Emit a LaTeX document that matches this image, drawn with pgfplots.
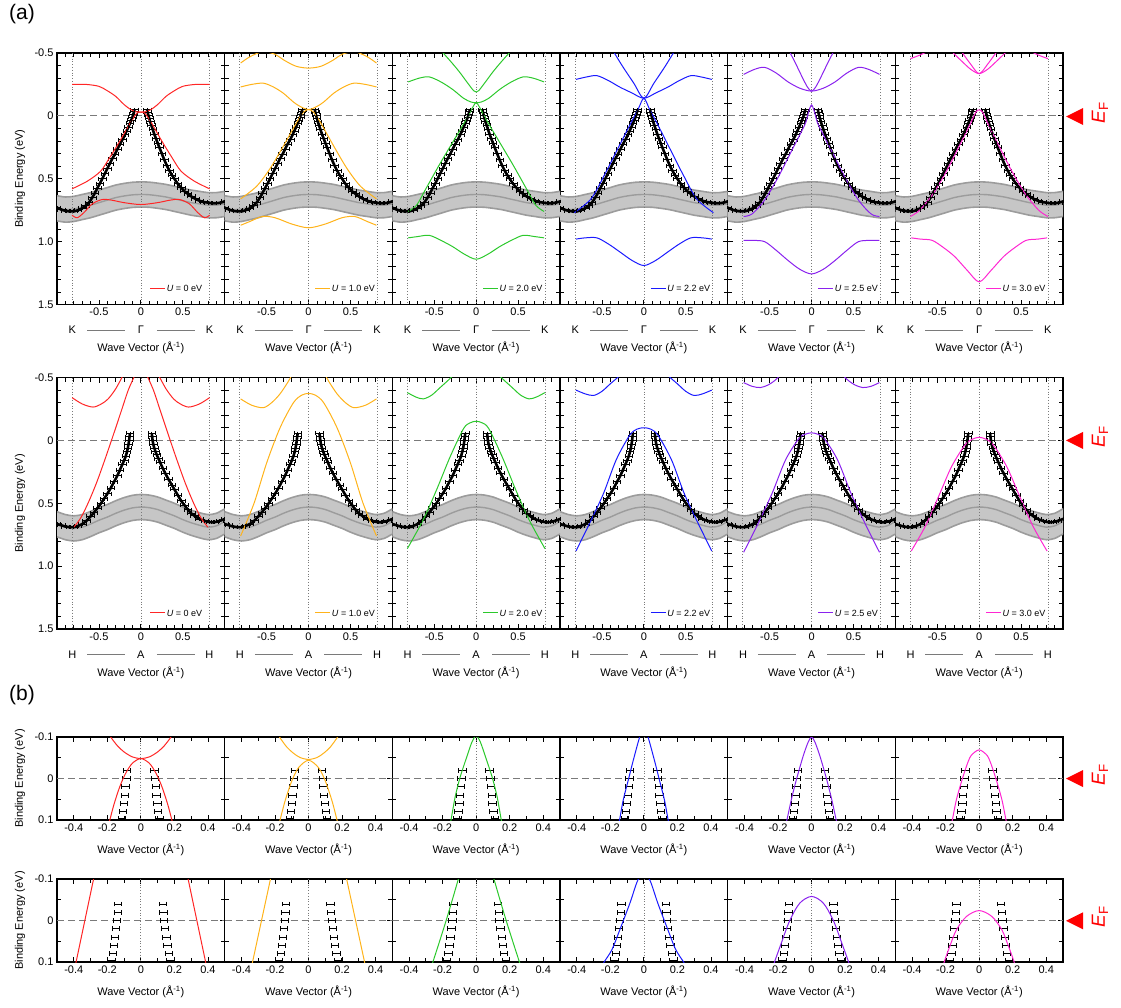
\documentclass[border=0pt]{standalone}
\usepackage{fontspec}
\setmainfont{Liberation Sans}
\usepackage{pgfplots}
\pgfplotsset{compat=1.18}
\usepackage{pgfplotstable}
\usepgfplotslibrary{fillbetween}

\definecolor{cA}{HTML}{FF2626}
\definecolor{cB}{HTML}{FFB31A}
\definecolor{cC}{HTML}{2CC92C}
\definecolor{cD}{HTML}{1A1AFF}
\definecolor{cE}{HTML}{8A22EE}
\definecolor{cF}{HTML}{FF26D2}
\definecolor{bandfill}{HTML}{C6C6C6}
\definecolor{bandline}{HTML}{9C9C9C}
\definecolor{guide}{HTML}{7A7A7A}

% gray band, K-Gamma-K cut
\pgfplotstableread{
k lo c hi
-1.05 0.630 0.730 0.830
-1.00 0.635 0.735 0.835
-0.90 0.645 0.745 0.845
-0.80 0.640 0.740 0.840
-0.70 0.625 0.725 0.825
-0.60 0.610 0.710 0.810
-0.50 0.590 0.690 0.790
-0.40 0.570 0.670 0.770
-0.30 0.550 0.650 0.750
-0.20 0.537 0.637 0.737
-0.10 0.528 0.628 0.728
0.00 0.525 0.625 0.725
0.10 0.527 0.627 0.727
0.20 0.535 0.635 0.735
0.30 0.545 0.645 0.745
0.40 0.560 0.660 0.760
0.50 0.575 0.675 0.775
0.60 0.590 0.690 0.790
0.70 0.600 0.700 0.800
0.80 0.610 0.710 0.810
0.90 0.610 0.710 0.810
1.00 0.600 0.700 0.800
1.05 0.595 0.695 0.795
}\bandA
% gray band, H-A-H cut
\pgfplotstableread{
k lo c hi
-1.05 0.560 0.660 0.760
-1.00 0.567 0.667 0.767
-0.90 0.590 0.690 0.790
-0.80 0.600 0.700 0.800
-0.70 0.590 0.690 0.790
-0.60 0.565 0.665 0.765
-0.50 0.535 0.635 0.735
-0.40 0.510 0.610 0.710
-0.30 0.480 0.580 0.680
-0.20 0.455 0.555 0.655
-0.10 0.437 0.537 0.637
0.00 0.430 0.530 0.630
0.10 0.435 0.535 0.635
0.20 0.450 0.550 0.650
0.30 0.475 0.575 0.675
0.40 0.500 0.600 0.700
0.50 0.530 0.630 0.730
0.60 0.555 0.655 0.755
0.70 0.575 0.675 0.775
0.80 0.590 0.690 0.790
0.90 0.580 0.680 0.780
1.00 0.545 0.645 0.745
1.05 0.535 0.635 0.735
}\bandB

% ARPES dispersion, K-Gamma-K
\pgfplotstableread{
k E
-1.05 0.720
-1.00 0.730
-0.95 0.745
-0.90 0.755
-0.85 0.760
-0.80 0.760
-0.75 0.750
-0.70 0.735
-0.66 0.715
-0.62 0.690
-0.58 0.650
-0.55 0.615
-0.52 0.575
-0.49 0.540
-0.46 0.500
-0.43 0.460
-0.40 0.420
-0.37 0.380
-0.34 0.340
-0.31 0.305
-0.28 0.265
-0.25 0.225
-0.22 0.190
-0.19 0.150
-0.17 0.120
-0.15 0.090
-0.13 0.060
-0.115 0.035
-0.10 0.010
-0.09 -0.015
-0.08 -0.035
-0.075 -0.050
}\dataAL
\pgfplotstableread{
k E
0.075 -0.050
0.08 -0.030
0.09 -0.005
0.10 0.020
0.11 0.045
0.125 0.075
0.14 0.105
0.16 0.145
0.18 0.180
0.20 0.215
0.22 0.250
0.25 0.300
0.28 0.350
0.31 0.395
0.34 0.435
0.37 0.470
0.40 0.500
0.44 0.540
0.48 0.570
0.52 0.600
0.56 0.620
0.60 0.640
0.65 0.660
0.70 0.675
0.75 0.685
0.80 0.690
0.85 0.695
0.90 0.695
0.95 0.690
1.00 0.680
1.05 0.670
}\dataAR
% ARPES dispersion, H-A-H
\pgfplotstableread{
k E
-1.05 0.655
-1.00 0.665
-0.95 0.675
-0.90 0.685
-0.85 0.690
-0.80 0.690
-0.75 0.680
-0.70 0.665
-0.65 0.640
-0.60 0.605
-0.56 0.575
-0.52 0.540
-0.48 0.505
-0.44 0.465
-0.40 0.425
-0.36 0.380
-0.32 0.330
-0.28 0.280
-0.25 0.235
-0.22 0.190
-0.20 0.160
-0.18 0.125
-0.165 0.090
-0.155 0.060
-0.147 0.030
-0.14 0.000
-0.135 -0.030
-0.13 -0.055
}\dataBL
\pgfplotstableread{
k E
0.13 -0.055
0.135 -0.030
0.14 0.000
0.148 0.030
0.16 0.060
0.175 0.090
0.19 0.115
0.21 0.145
0.23 0.175
0.26 0.220
0.29 0.260
0.33 0.310
0.37 0.355
0.40 0.390
0.44 0.435
0.48 0.480
0.52 0.515
0.56 0.550
0.60 0.580
0.64 0.600
0.70 0.625
0.76 0.640
0.82 0.650
0.88 0.650
0.94 0.640
1.00 0.625
1.05 0.610
}\dataBR
% near-EF points
\pgfplotstableread{
k E
-0.083 -0.02
-0.087 0.00
-0.091 0.02
-0.096 0.04
-0.101 0.06
-0.106 0.08
-0.112 0.096
}\dataCL
\pgfplotstableread{
k E
0.080 -0.02
0.084 0.00
0.088 0.02
0.093 0.04
0.098 0.06
0.103 0.08
0.110 0.096
}\dataCR
\pgfplotstableread{
k E
-0.135 -0.04
-0.138 -0.02
-0.142 0.00
-0.147 0.02
-0.153 0.04
-0.159 0.06
-0.166 0.08
-0.175 0.096
}\dataDL
\pgfplotstableread{
k E
0.130 -0.04
0.134 -0.02
0.139 0.00
0.145 0.02
0.152 0.04
0.158 0.06
0.166 0.08
0.176 0.096
}\dataDR

\pgfplotsset{
  base/.style={scale only axis, width=167.7pt, y dir=reverse, anchor=north west,
    axis line style={line width=1.1pt},
    every tick/.style={black, line width=0.8pt},
    major tick length=5pt, minor tick length=4pt,
    tick label style={font=\fontsize{11}{12}\selectfont},
    label style={font=\fontsize{11}{12}\selectfont},
    xlabel={Wave Vector (Å\textsuperscript{-1})},
    yticklabels={},
    ylabel style={at={(axis description cs:-0.2206,0.5)}, anchor=center},
  },
  panelA/.style={base, height=251.5pt,
    xmin=-1, xmax=1, ymin=-0.5, ymax=1.5,
    xtick={-0.5,0,0.5}, xticklabels={-0.5,0,0.5},
    minor xtick={-0.9,-0.8,-0.7,-0.6,-0.4,-0.3,-0.2,-0.1,0.1,0.2,0.3,0.4,0.6,0.7,0.8,0.9},
    ytick={-0.5,0,0.5,1,1.5},
    minor ytick={-0.4,-0.3,-0.2,-0.1,0.1,0.2,0.3,0.4,0.6,0.7,0.8,0.9,1.1,1.2,1.3,1.4},
    xlabel style={at={(axis description cs:0.5,0)}, anchor=center, yshift=-43.5pt},
  },
  firstA/.style={yticklabels={-0.5,0,0.5,1.0,1.5}, ylabel={Binding Energy (eV)}},
  panelB/.style={base, height=83pt,
    xmin=-0.5, xmax=0.5, ymin=-0.1, ymax=0.1,
    xtick={-0.4,-0.2,0,0.2,0.4}, xticklabels={-0.4,-0.2,0,0.2,0.4},
    minor xtick={-0.3,-0.1,0.1,0.3},
    ytick={-0.1,0,0.1}, minor ytick={-0.05,0.05},
    xlabel style={at={(axis description cs:0.5,0)}, anchor=center, yshift=-30pt},
  },
  firstB/.style={yticklabels={-0.1,0,0.1}, ylabel={Binding Energy (eV)}},
  kgk/.style 2 args={extra description/.append code={
    \node[font=\fontsize{11}{12}\selectfont] at ([yshift=-25.5pt]axis description cs:0.091,0) {#1};
    \node[font=\fontsize{11}{12}\selectfont] at ([yshift=-25.5pt]axis description cs:0.5,0) {#2};
    \node[font=\fontsize{11}{12}\selectfont] at ([yshift=-25.5pt]axis description cs:0.909,0) {#1};
    \draw[guide, line width=0.7pt] ([yshift=-25.5pt]axis description cs:0.18,0) -- ([yshift=-25.5pt]axis description cs:0.405,0);
    \draw[guide, line width=0.7pt] ([yshift=-25.5pt]axis description cs:0.595,0) -- ([yshift=-25.5pt]axis description cs:0.82,0);
  }},
  th/.style={line width=1pt, smooth, tension=0.5},
  dotg/.style={guide, line width=0.7pt, dash pattern=on 0.8pt off 2pt},
  dashg/.style={guide, line width=0.8pt, dash pattern=on 7pt off 4pt},
  databarA/.style={black, only marks, mark=|, mark size=1.8pt, mark options={line width=0.6pt},
    error bars/x dir=both, error bars/x fixed=0.045,
    error bars/error mark=|,
    error bars/error bar style={black, line width=0.8pt},
    error bars/error mark options={black, line width=0.6pt, mark size=2pt}},
  databarB/.style={black, only marks, mark=|, mark size=0pt,
    error bars/x dir=both, error bars/x fixed=0.022,
    error bars/error mark=|,
    error bars/error bar style={black, line width=0.8pt},
    error bars/error mark options={black, line width=0.8pt, mark size=2.4pt}},
}

\newcommand{\bgA}[3]{%
  \addplot[forget plot, draw=none, smooth, name path=lo] table[x=k,y=lo]{#1};
  \addplot[forget plot, draw=none, smooth, name path=hi] table[x=k,y=hi]{#1};
  \addplot[forget plot, bandfill] fill between[of=lo and hi];
  \addplot[forget plot, bandline, line width=1.6pt, smooth] table[x=k,y=lo]{#1};
  \addplot[forget plot, bandline, line width=1.6pt, smooth] table[x=k,y=hi]{#1};
  \addplot[forget plot, bandline, line width=1.4pt, smooth] table[x=k,y=c]{#1};
  \addplot[forget plot, dotg] coordinates {(-0.82,-0.5) (-0.82,1.5)};
  \addplot[forget plot, dotg] coordinates {(0,-0.5) (0,1.5)};
  \addplot[forget plot, dotg] coordinates {(0.82,-0.5) (0.82,1.5)};
  \addplot[forget plot, dashg] coordinates {(-1,0) (1,0)};
  \addplot[forget plot, black, line width=2.6pt, smooth] table{#2};
  \addplot[forget plot, black, line width=2.6pt, smooth] table{#3};
  \addplot[forget plot, databarA] table{#2};
  \addplot[forget plot, databarA] table{#3};
}
\newcommand{\bgB}[2]{%
  \addplot[forget plot, dotg] coordinates {(0,-0.1) (0,0.1)};
  \addplot[forget plot, dashg] coordinates {(-0.5,0) (0.5,0)};
  \addplot[forget plot, databarB] table{#1};
  \addplot[forget plot, databarB] table{#2};
}
% small legend inside the panel: #1 colour, #2 value, #3 start of the sample line
\newcommand{\leg}[3]{%
  \node[font=\fontsize{9}{10}\selectfont, anchor=west, inner sep=0pt] at (axis cs:#3,1.375)
    {\textcolor{#1}{\rule[2.9pt]{15pt}{1pt}}\hspace{1.5pt}\textit{U} = #2 eV};
}
\newcommand{\EF}[1]{%
  \begin{scope}[yshift=-#1pt]
    \fill[red] (1083pt,8.5pt) -- (1083pt,-8.5pt) -- (1066pt,0pt) -- cycle;
    \node[red, rotate=90, inner sep=0pt, font=\fontsize{19}{20}\selectfont] at (1100pt,4pt) {\textit{E}\textsubscript{F}};
  \end{scope}}

\begin{document}
\begin{tikzpicture}
\path (0pt,0pt) rectangle (1121pt,-1007pt);
\node[font=\fontsize{21}{24}\selectfont, inner sep=0pt] at (22pt,-14pt) {(a)};
\node[font=\fontsize{21}{24}\selectfont, inner sep=0pt] at (22pt,-695pt) {(b)};

% ---------------- row 1: K-Gamma-K ----------------
\begin{axis}[panelA, firstA, kgk={K}{Γ}, at={(57pt,-53pt)}]
\bgA{\bandA}{\dataAL}{\dataAR}
\addplot[th, cA] coordinates {(-0.82,-0.25) (-0.65,-0.25) (-0.5,-0.235) (-0.4,-0.2) (-0.3,-0.155) (-0.2,-0.09) (-0.12,-0.05) (-0.05,-0.032) (0,-0.03) (0.05,-0.032) (0.12,-0.05) (0.2,-0.09) (0.3,-0.155) (0.4,-0.2) (0.5,-0.235) (0.65,-0.25) (0.82,-0.25)};
\addplot[th, cA] coordinates {(-0.82,0.58) (-0.64,0.52) (-0.48,0.44) (-0.37,0.33) (-0.25,0.20) (-0.13,0.06) (-0.05,-0.02) (0,-0.03) (0.05,-0.02) (0.13,0.06) (0.25,0.20) (0.37,0.33) (0.48,0.44) (0.64,0.52) (0.82,0.58)};
\addplot[th, cA] coordinates {(-0.82,0.79) (-0.76,0.81) (-0.68,0.77) (-0.58,0.70) (-0.46,0.665) (-0.35,0.67) (-0.2,0.69) (0,0.705) (0.2,0.69) (0.35,0.67) (0.46,0.665) (0.58,0.70) (0.68,0.77) (0.76,0.81) (0.82,0.79)};
\leg{cA}{0}{0.11}
\end{axis}

\begin{axis}[panelA, kgk={K}{Γ}, at={(224.7pt,-53pt)}]
\bgA{\bandA}{\dataAL}{\dataAR}
\addplot[th, cB] coordinates {(-0.81,0.66) (-0.62,0.56) (-0.46,0.42) (-0.3,0.24) (-0.14,0.05) (-0.06,-0.03) (0,-0.05) (0.06,-0.03) (0.14,0.05) (0.3,0.24) (0.46,0.42) (0.62,0.56) (0.81,0.66)};
\addplot[th, cB] coordinates {(-0.81,-0.42) (-0.7,-0.47) (-0.55,-0.51) (-0.4,-0.49) (-0.3,-0.446) (-0.15,-0.395) (0,-0.38) (0.15,-0.395) (0.3,-0.446) (0.4,-0.49) (0.55,-0.51) (0.7,-0.47) (0.81,-0.42)};
\addplot[th, cB] coordinates {(-0.81,-0.23) (-0.68,-0.25) (-0.54,-0.26) (-0.42,-0.23) (-0.3,-0.18) (-0.18,-0.11) (-0.1,-0.075) (0,-0.05) (0.1,-0.075) (0.18,-0.11) (0.3,-0.18) (0.42,-0.23) (0.54,-0.26) (0.68,-0.25) (0.81,-0.23)};
\addplot[th, cB] coordinates {(-0.81,0.87) (-0.7,0.84) (-0.55,0.80) (-0.4,0.81) (-0.2,0.86) (0,0.89) (0.2,0.86) (0.4,0.81) (0.55,0.80) (0.7,0.84) (0.81,0.87)};
\leg{cB}{1.0}{0.08}
\end{axis}

\begin{axis}[panelA, kgk={K}{Γ}, at={(392.3pt,-53pt)}]
\bgA{\bandA}{\dataAL}{\dataAR}
\addplot[th, cC] coordinates {(-0.81,0.76) (-0.71,0.71) (-0.6,0.58) (-0.44,0.39) (-0.28,0.21) (-0.12,0.03) (-0.04,-0.07) (0,-0.105) (0.04,-0.07) (0.12,0.03) (0.28,0.21) (0.44,0.39) (0.6,0.58) (0.71,0.71) (0.81,0.76)};
\addplot[th, cC] coordinates {(-0.42,-0.52) (-0.3,-0.43) (-0.2,-0.35) (-0.1,-0.26) (-0.03,-0.2) (0,-0.19) (0.03,-0.2) (0.1,-0.26) (0.2,-0.35) (0.3,-0.43) (0.42,-0.52)};
\addplot[th, cC] coordinates {(-0.81,-0.27) (-0.68,-0.30) (-0.56,-0.31) (-0.42,-0.27) (-0.28,-0.21) (-0.15,-0.14) (-0.06,-0.11) (0,-0.105) (0.06,-0.11) (0.15,-0.14) (0.28,-0.21) (0.42,-0.27) (0.56,-0.31) (0.68,-0.30) (0.81,-0.27)};
\addplot[th, cC] coordinates {(-0.81,0.97) (-0.7,0.96) (-0.56,0.95) (-0.42,0.99) (-0.28,1.04) (-0.14,1.10) (0,1.14) (0.14,1.10) (0.28,1.04) (0.42,0.99) (0.56,0.95) (0.7,0.96) (0.81,0.97)};
\leg{cC}{2.0}{0.08}
\end{axis}

\begin{axis}[panelA, kgk={K}{Γ}, at={(560pt,-53pt)}]
\bgA{\bandA}{\dataAL}{\dataAR}
\addplot[th, cD] coordinates {(-0.83,0.77) (-0.63,0.66) (-0.47,0.47) (-0.31,0.26) (-0.15,0.05) (-0.07,-0.05) (0,-0.14) (0.07,-0.05) (0.15,0.05) (0.31,0.26) (0.47,0.47) (0.63,0.66) (0.83,0.77)};
\addplot[th, cD] coordinates {(-0.37,-0.52) (-0.25,-0.39) (-0.12,-0.26) (0,-0.14) (0.12,-0.26) (0.25,-0.39) (0.37,-0.52)};
\addplot[th, cD] coordinates {(-0.81,-0.29) (-0.68,-0.31) (-0.56,-0.32) (-0.42,-0.28) (-0.29,-0.23) (-0.15,-0.185) (0,-0.14) (0.15,-0.185) (0.29,-0.23) (0.42,-0.28) (0.56,-0.32) (0.68,-0.31) (0.81,-0.29)};
\addplot[th, cD] coordinates {(-0.81,0.98) (-0.7,0.97) (-0.56,0.97) (-0.42,1.02) (-0.29,1.08) (-0.14,1.15) (0,1.19) (0.14,1.15) (0.29,1.08) (0.42,1.02) (0.56,0.97) (0.7,0.97) (0.81,0.98)};
\leg{cD}{2.2}{0.08}
\end{axis}

\begin{axis}[panelA, kgk={K}{Γ}, at={(727.7pt,-53pt)}]
\bgA{\bandA}{\dataAL}{\dataAR}
\addplot[th, cE] coordinates {(-0.81,0.80) (-0.71,0.78) (-0.56,0.67) (-0.4,0.49) (-0.24,0.28) (-0.08,0.07) (-0.04,-0.02) (0,-0.087) (0.04,-0.02) (0.08,0.07) (0.24,0.28) (0.4,0.49) (0.56,0.67) (0.71,0.78) (0.81,0.80)};
\addplot[th, cE] coordinates {(-0.27,-0.52) (-0.2,-0.43) (-0.12,-0.32) (-0.05,-0.23) (0,-0.197) (0.05,-0.23) (0.12,-0.32) (0.2,-0.43) (0.27,-0.52)};
\addplot[th, cE] coordinates {(-0.81,-0.33) (-0.68,-0.37) (-0.56,-0.386) (-0.42,-0.34) (-0.28,-0.27) (-0.14,-0.22) (0,-0.197) (0.14,-0.22) (0.28,-0.27) (0.42,-0.34) (0.56,-0.386) (0.68,-0.37) (0.81,-0.33)};
\addplot[th, cE] coordinates {(-0.81,0.99) (-0.7,0.99) (-0.56,1.0) (-0.42,1.07) (-0.28,1.15) (-0.14,1.22) (0,1.257) (0.14,1.22) (0.28,1.15) (0.42,1.07) (0.56,1.0) (0.7,0.99) (0.81,0.99)};
\leg{cE}{2.5}{0.08}
\end{axis}

\begin{axis}[panelA, kgk={K}{Γ}, at={(895.3pt,-53pt)}]
\bgA{\bandA}{\dataAL}{\dataAR}
\addplot[th, cF] coordinates {(-0.82,0.80) (-0.71,0.75) (-0.55,0.62) (-0.39,0.44) (-0.23,0.23) (-0.11,0.07) (-0.04,-0.03) (0,-0.047) (0.04,-0.03) (0.11,0.07) (0.23,0.23) (0.39,0.44) (0.55,0.62) (0.71,0.75) (0.82,0.80)};
\addplot[th, cF] coordinates {(-0.34,-0.52) (-0.2,-0.43) (-0.1,-0.37) (0,-0.336) (0.1,-0.37) (0.2,-0.43) (0.34,-0.52)};
\addplot[th, cF] coordinates {(-0.22,-0.52) (-0.1,-0.41) (0,-0.336) (0.1,-0.41) (0.22,-0.52)};
\addplot[th, cF] coordinates {(-0.82,-0.455) (-0.72,-0.48) (-0.62,-0.51)};
\addplot[th, cF] coordinates {(0.62,-0.51) (0.72,-0.48) (0.82,-0.455)};
\addplot[th, cF] coordinates {(-0.81,0.97) (-0.7,0.98) (-0.56,0.99) (-0.42,1.05) (-0.29,1.12) (-0.14,1.23) (0,1.32) (0.14,1.23) (0.29,1.12) (0.42,1.05) (0.56,0.99) (0.7,0.98) (0.81,0.97)};
\leg{cF}{3.0}{0.08}
\end{axis}

% ---------------- row 2: H-A-H ----------------
\begin{axis}[panelA, firstA, kgk={H}{A}, at={(57pt,-377.5pt)}]
\bgA{\bandB}{\dataBL}{\dataBR}
\addplot[th, cA] coordinates {(-0.8,0.69) (-0.72,0.62) (-0.63,0.50) (-0.53,0.34) (-0.43,0.155) (-0.33,-0.04) (-0.23,-0.24) (-0.15,-0.4) (-0.07,-0.52)};
\addplot[th, cA] coordinates {(0.8,0.69) (0.72,0.62) (0.63,0.50) (0.53,0.34) (0.43,0.155) (0.33,-0.04) (0.23,-0.24) (0.15,-0.4) (0.07,-0.52)};
\addplot[th, cA] coordinates {(-0.82,-0.34) (-0.7,-0.29) (-0.57,-0.265) (-0.47,-0.29) (-0.39,-0.33) (-0.3,-0.41) (-0.21,-0.52)};
\addplot[th, cA] coordinates {(0.82,-0.34) (0.7,-0.29) (0.57,-0.265) (0.47,-0.29) (0.39,-0.33) (0.3,-0.41) (0.21,-0.52)};
\leg{cA}{0}{0.11}
\end{axis}

\begin{axis}[panelA, kgk={H}{A}, at={(224.7pt,-377.5pt)}]
\bgA{\bandB}{\dataBL}{\dataBR}
\addplot[th, cB] coordinates {(-0.81,0.76) (-0.65,0.50) (-0.5,0.18) (-0.34,-0.10) (-0.18,-0.30) (-0.08,-0.36) (0,-0.373) (0.08,-0.36) (0.18,-0.30) (0.34,-0.10) (0.5,0.18) (0.65,0.50) (0.81,0.76)};
\addplot[th, cB] coordinates {(-0.81,-0.33) (-0.68,-0.28) (-0.54,-0.26) (-0.44,-0.3) (-0.34,-0.37) (-0.24,-0.47) (-0.2,-0.52)};
\addplot[th, cB] coordinates {(0.81,-0.33) (0.68,-0.28) (0.54,-0.26) (0.44,-0.3) (0.34,-0.37) (0.24,-0.47) (0.2,-0.52)};
\leg{cB}{1.0}{0.08}
\end{axis}

\begin{axis}[panelA, kgk={H}{A}, at={(392.3pt,-377.5pt)}]
\bgA{\bandB}{\dataBL}{\dataBR}
\addplot[th, cC] coordinates {(-0.82,0.86) (-0.63,0.63) (-0.47,0.39) (-0.31,0.13) (-0.15,-0.094) (-0.07,-0.14) (0,-0.152) (0.07,-0.14) (0.15,-0.094) (0.31,0.13) (0.47,0.39) (0.63,0.63) (0.82,0.86)};
\addplot[th, cC] coordinates {(-0.82,-0.38) (-0.72,-0.345) (-0.63,-0.33) (-0.53,-0.36) (-0.43,-0.42) (-0.33,-0.48) (-0.27,-0.52)};
\addplot[th, cC] coordinates {(0.82,-0.38) (0.72,-0.345) (0.63,-0.33) (0.53,-0.36) (0.43,-0.42) (0.33,-0.48) (0.27,-0.52)};
\leg{cC}{2.0}{0.08}
\end{axis}

\begin{axis}[panelA, kgk={H}{A}, at={(560pt,-377.5pt)}]
\bgA{\bandB}{\dataBL}{\dataBR}
\addplot[th, cD] coordinates {(-0.81,0.88) (-0.64,0.65) (-0.48,0.42) (-0.33,0.155) (-0.17,-0.04) (-0.08,-0.09) (0,-0.10) (0.08,-0.09) (0.17,-0.04) (0.33,0.155) (0.48,0.42) (0.64,0.65) (0.81,0.88)};
\addplot[th, cD] coordinates {(-0.81,-0.40) (-0.7,-0.37) (-0.6,-0.357) (-0.5,-0.39) (-0.4,-0.45) (-0.33,-0.49) (-0.28,-0.52)};
\addplot[th, cD] coordinates {(0.81,-0.40) (0.7,-0.37) (0.6,-0.357) (0.5,-0.39) (0.4,-0.45) (0.33,-0.49) (0.28,-0.52)};
\leg{cD}{2.2}{0.08}
\end{axis}

\begin{axis}[panelA, kgk={H}{A}, at={(727.7pt,-377.5pt)}]
\bgA{\bandB}{\dataBL}{\dataBR}
\addplot[th, cE] coordinates {(-0.81,0.89) (-0.63,0.65) (-0.47,0.42) (-0.31,0.155) (-0.15,-0.016) (-0.07,-0.05) (0,-0.06) (0.07,-0.05) (0.15,-0.016) (0.31,0.155) (0.47,0.42) (0.63,0.65) (0.81,0.89)};
\addplot[th, cE] coordinates {(-0.81,-0.46) (-0.71,-0.43) (-0.61,-0.42) (-0.52,-0.44) (-0.45,-0.47) (-0.4,-0.5) (-0.37,-0.52)};
\addplot[th, cE] coordinates {(0.81,-0.46) (0.71,-0.43) (0.61,-0.42) (0.52,-0.44) (0.45,-0.47) (0.4,-0.5) (0.37,-0.52)};
\leg{cE}{2.5}{0.08}
\end{axis}

\begin{axis}[panelA, kgk={H}{A}, at={(895.3pt,-377.5pt)}]
\bgA{\bandB}{\dataBL}{\dataBR}
\addplot[th, cF] coordinates {(-0.81,0.88) (-0.64,0.68) (-0.48,0.44) (-0.33,0.21) (-0.17,0.037) (-0.08,-0.01) (0,-0.024) (0.08,-0.01) (0.17,0.037) (0.33,0.21) (0.48,0.44) (0.64,0.68) (0.81,0.88)};
\leg{cF}{3.0}{0.08}
\end{axis}

% ---------------- row 3: near EF, K-Gamma-K ----------------
\begin{axis}[panelB, firstB, at={(57pt,-737pt)}]
\bgB{\dataCL}{\dataCR}
\addplot[th, cA] coordinates {(-0.2,-0.112) (-0.18,-0.1) (-0.14,-0.079) (-0.1,-0.064) (-0.05,-0.052) (0,-0.048) (0.05,-0.052) (0.1,-0.064) (0.14,-0.079) (0.18,-0.1) (0.2,-0.112)};
\addplot[th, cA] coordinates {(-0.195,0.115) (-0.185,0.1) (-0.16,0.062) (-0.125,0.019) (-0.09,-0.013) (-0.05,-0.037) (0,-0.048) (0.05,-0.037) (0.09,-0.013) (0.125,0.019) (0.16,0.062) (0.185,0.1) (0.195,0.115)};
\end{axis}
\begin{axis}[panelB, at={(224.7pt,-737pt)}]
\bgB{\dataCL}{\dataCR}
\addplot[th, cB] coordinates {(-0.19,-0.111) (-0.17,-0.098) (-0.13,-0.076) (-0.09,-0.061) (-0.05,-0.0505) (0,-0.046) (0.05,-0.0505) (0.09,-0.061) (0.13,-0.076) (0.17,-0.098) (0.19,-0.111)};
\addplot[th, cB] coordinates {(-0.18,0.118) (-0.17,0.1005) (-0.14,0.054) (-0.1,0.006) (-0.06,-0.026) (0,-0.044) (0.06,-0.026) (0.1,0.006) (0.14,0.054) (0.17,0.1005) (0.18,0.118)};
\end{axis}
\begin{axis}[panelB, at={(392.3pt,-737pt)}]
\bgB{\dataCL}{\dataCR}
\addplot[th, cC] coordinates {(-0.16,0.115) (-0.15,0.1) (-0.125,0.044) (-0.095,-0.004) (-0.056,-0.052) (-0.025,-0.088) (0,-0.103) (0.025,-0.088) (0.056,-0.052) (0.095,-0.004) (0.125,0.044) (0.15,0.1) (0.16,0.115)};
\end{axis}
\begin{axis}[panelB, at={(560pt,-737pt)}]
\bgB{\dataCL}{\dataCR}
\addplot[th, cD] coordinates {(-0.16,0.125) (-0.145,0.1) (-0.123,0.052) (-0.093,0.004) (-0.063,-0.044) (-0.025,-0.1) (0,-0.125) (0.025,-0.1) (0.063,-0.044) (0.093,0.004) (0.123,0.052) (0.145,0.1) (0.16,0.125)};
\end{axis}
\begin{axis}[panelB, at={(727.7pt,-737pt)}]
\bgB{\dataCL}{\dataCR}
\addplot[th, cE] coordinates {(-0.155,0.112) (-0.147,0.1) (-0.12,0.05) (-0.09,0.002) (-0.05,-0.054) (-0.02,-0.088) (0,-0.1) (0.02,-0.088) (0.05,-0.054) (0.09,0.002) (0.12,0.05) (0.147,0.1) (0.155,0.112)};
\end{axis}
\begin{axis}[panelB, at={(895.3pt,-737pt)}]
\bgB{\dataCL}{\dataCR}
\addplot[th, cF] coordinates {(-0.168,0.112) (-0.16,0.1) (-0.135,0.05) (-0.095,-0.006) (-0.056,-0.05) (-0.025,-0.064) (0,-0.069) (0.025,-0.064) (0.056,-0.05) (0.095,-0.006) (0.135,0.05) (0.16,0.1) (0.168,0.112)};
\end{axis}

% ---------------- row 4: near EF, H-A-H ----------------
\begin{axis}[panelB, firstB, at={(57pt,-879pt)}]
\bgB{\dataDL}{\dataDR}
\addplot[th, cA] coordinates {(-0.274,-0.115) (-0.394,0.115)};
\addplot[th, cA] coordinates {(0.274,-0.115) (0.394,0.115)};
\end{axis}
\begin{axis}[panelB, at={(224.7pt,-879pt)}]
\bgB{\dataDL}{\dataDR}
\addplot[th, cB] coordinates {(-0.219,-0.115) (-0.342,0.115)};
\addplot[th, cB] coordinates {(0.219,-0.115) (0.342,0.115)};
\end{axis}
\begin{axis}[panelB, at={(392.3pt,-879pt)}]
\bgB{\dataDL}{\dataDR}
\addplot[th, cC] coordinates {(-0.095,-0.115) (-0.106,-0.1) (-0.142,-0.05) (-0.179,0) (-0.218,0.05) (-0.258,0.1) (-0.27,0.115)};
\addplot[th, cC] coordinates {(0.095,-0.115) (0.106,-0.1) (0.142,-0.05) (0.179,0) (0.218,0.05) (0.258,0.1) (0.27,0.115)};
\end{axis}
\begin{axis}[panelB, at={(560pt,-879pt)}]
\bgB{\dataDL}{\dataDR}
\addplot[th, cD] coordinates {(-0.25,0.11) (-0.237,0.1) (-0.19,0.07) (-0.143,0.022) (-0.083,-0.042) (-0.035,-0.098) (0,-0.105) (0.035,-0.098) (0.083,-0.042) (0.143,0.022) (0.19,0.07) (0.237,0.1) (0.25,0.11)};
\end{axis}
\begin{axis}[panelB, at={(727.7pt,-879pt)}]
\bgB{\dataDL}{\dataDR}
\addplot[th, cE] coordinates {(-0.23,0.11) (-0.221,0.1) (-0.18,0.054) (-0.13,0) (-0.07,-0.042) (0,-0.058) (0.07,-0.042) (0.13,0) (0.18,0.054) (0.221,0.1) (0.23,0.11)};
\end{axis}
\begin{axis}[panelB, at={(895.3pt,-879pt)}]
\bgB{\dataDL}{\dataDR}
\addplot[th, cF] coordinates {(-0.215,0.11) (-0.207,0.098) (-0.175,0.062) (-0.135,0.022) (-0.075,-0.01) (0,-0.024) (0.075,-0.01) (0.135,0.022) (0.175,0.062) (0.207,0.098) (0.215,0.11)};
\end{axis}

\EF{116.5}
\EF{440.4}
\EF{778.5}
\EF{920.8}
\end{tikzpicture}
\end{document}
